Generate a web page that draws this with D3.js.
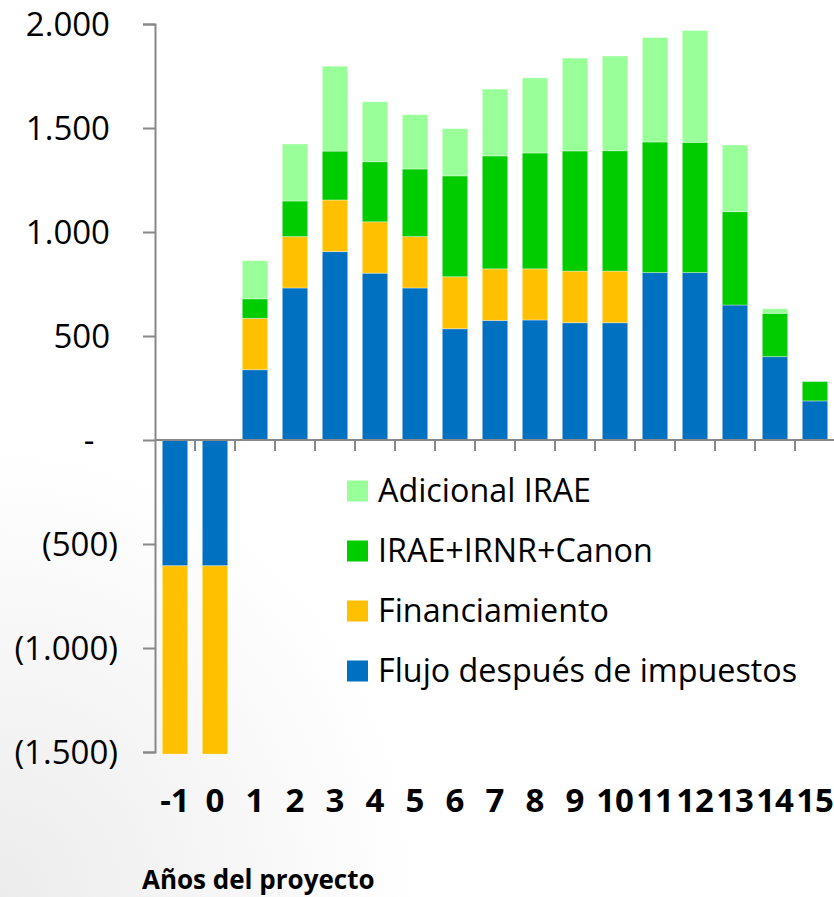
<!DOCTYPE html>
<html>
<head>
<meta charset="utf-8">
<script src="https://cdn.jsdelivr.net/npm/d3@7"></script>
<style>
  html, body { margin: 0; padding: 0; background: #fff; }
  svg { display: block; }
</style>
</head>
<body>
<script>
// ---- data ----
const years = ["-1","0","1","2","3","4","5","6","7","8","9","10","11","12","13","14","15"];
const flujo     = [-605,-605,338,731,906,802,731,535,575,577,564,564,805,805,649,401,188];
const financ    = [-905,-905,247,247,248,247,247,250,248,246,248,248,0,0,0,0,0];
const irae      = [0,0,94,171,235,289,325,485,543,557,578,579,628,626,449,208,93];
const adicional = [0,0,183,274,408,288,261,227,321,361,446,455,502,538,320,22,0];
const seriesNames = ["Flujo después de impuestos","Financiamiento","IRAE+IRNR+Canon","Adicional IRAE"];
const seriesColors = ["#0070C0","#FFC000","#00CC00","#99FF99"];
const yTicks = [-1500,-1000,-500,0,500,1000,1500,2000];
const xTitle = "Años del proyecto";

const W = 834, H = 897;
const svg = d3.select("body").append("svg").attr("width", W).attr("height", H);

// subtle background shading bottom-left
const defs = svg.append("defs");
const rg = defs.append("radialGradient").attr("id","bgShade")
  .attr("cx","0").attr("cy","1").attr("r","0.5");
rg.append("stop").attr("offset","0").attr("stop-color","#ececec");
rg.append("stop").attr("offset","1").attr("stop-color","#ffffff");
svg.append("rect").attr("width",W).attr("height",H).attr("fill","url(#bgShade)");

const keys = ["flujo","financ","irae","adicional"];
const rows = years.map((y,i)=>({year:y, flujo:flujo[i], financ:financ[i], irae:irae[i], adicional:adicional[i]}));
const stacked = d3.stack().keys(keys).offset(d3.stackOffsetDiverging)(rows);

const x = d3.scaleBand().domain(years).range([155, 835]).paddingInner(0.365).paddingOuter(0.1825);
const y = d3.scaleLinear().domain([-1500, 2000]).range([752, 24]);

// bars
svg.append("g").selectAll("g").data(stacked).join("g")
  .attr("fill", (d,i)=>seriesColors[i])
  .selectAll("rect").data(d=>d).join("rect")
  .attr("x", d=>x(d.data.year))
  .attr("width", x.bandwidth())
  .attr("y", d=>y(Math.max(d[0],d[1])))
  .attr("height", d=>Math.abs(y(d[0])-y(d[1])))
  .attr("stroke","rgba(255,255,255,0.35)")
  .attr("stroke-width",1);

const axisColor = "#888888";
// y axis
const fmt = v => {
  if (v === 0) return "-";
  const s = d3.format(",")(Math.abs(v)).replace(/,/g,".");
  return v < 0 ? "(" + s + ")" : s;
};
const yAxis = svg.append("g").attr("transform","translate(155,0)")
  .call(d3.axisLeft(y).tickValues(yTicks).tickSize(12).tickFormat(fmt));
yAxis.select(".domain").attr("stroke",axisColor).attr("stroke-width",2);
yAxis.selectAll(".tick line").attr("stroke",axisColor).attr("stroke-width",2);
yAxis.selectAll(".tick text")
  .attr("font-family","'Open Sans', sans-serif")
  .attr("font-size",33)
  .attr("fill","#000")
  .attr("dy","0.35em")
  .attr("text-anchor", d => d === 0 ? "middle" : "end")
  .attr("x", d => d === 0 ? -66 : (d < 0 ? -37 : -45));

// x axis at zero
const xAxisG = svg.append("g").attr("transform",`translate(0,${y(0)})`);
xAxisG.append("line").attr("x1",155).attr("x2",835).attr("y1",0).attr("y2",0)
  .attr("stroke",axisColor).attr("stroke-width",2);
xAxisG.selectAll("line.tk").data(years.slice(1)).join("line").attr("class","tk")
  .attr("x1", d=>x(d) - x.step()*x.paddingInner()/2)
  .attr("x2", d=>x(d) - x.step()*x.paddingInner()/2)
  .attr("y1",0).attr("y2",11)
  .attr("stroke",axisColor).attr("stroke-width",2);

// x labels (bold, low)
svg.append("g").selectAll("text").data(years).join("text")
  .attr("x", d=>x(d)+x.bandwidth()/2)
  .attr("y", 812)
  .attr("text-anchor","middle")
  .attr("font-family","'Open Sans', sans-serif")
  .attr("font-weight","bold")
  .attr("font-size",33)
  .attr("fill","#000")
  .text(d=>d);

// x title
svg.append("text").attr("x",142).attr("y",889)
  .attr("font-family","'Open Sans', sans-serif")
  .attr("font-weight","bold").attr("font-size",26).attr("fill","#000")
  .text(xTitle);

// legend (reverse order: top = Adicional IRAE)
const legendItems = seriesNames.map((n,i)=>({name:n,color:seriesColors[i]})).reverse();
const lg = svg.append("g");
const li = lg.selectAll("g").data(legendItems).join("g")
  .attr("transform",(d,i)=>`translate(347,${491 + i*60})`);
li.append("rect").attr("x",0).attr("y",-10.5).attr("width",21).attr("height",21).attr("fill",d=>d.color);
li.append("text").attr("x",31).attr("y",11)
  .attr("font-family","'Open Sans', sans-serif")
  .attr("font-size",32.3).attr("fill","#000")
  .text(d=>d.name);
</script>
</body>
</html>
